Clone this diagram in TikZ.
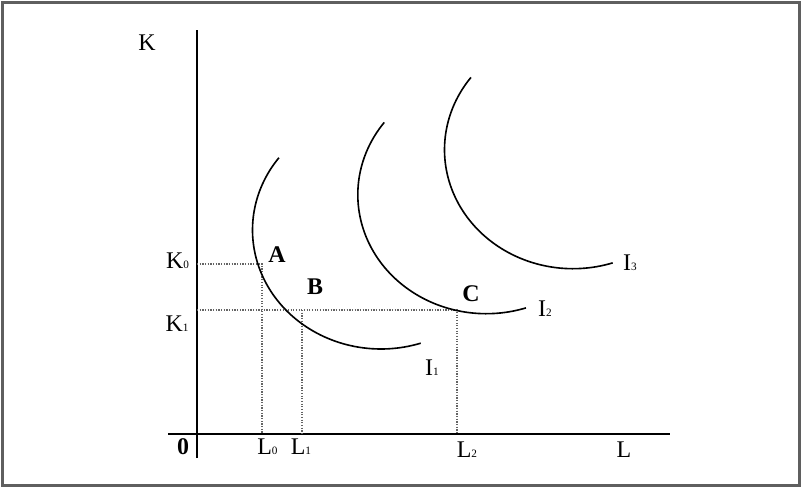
\documentclass[tikz,border=0pt]{standalone}
\usepackage{fontspec}
\setmainfont{Liberation Serif}
\usepackage{tikz}
\usetikzlibrary{positioning}
\definecolor{fLine}{RGB}{95,95,95}
\definecolor{gDot}{RGB}{100,100,100}
\tikzset{
  axis/.style={draw=black, line width=1.4pt},
  icurve/.style={draw=black, line width=1.15pt},
  guide/.style={draw=gDot, densely dotted, line width=0.9pt},
  lbl/.style={font=\fontsize{17}{19}\selectfont, inner sep=0pt},
  ptlbl/.style={font=\fontsize{17}{19}\selectfont\bfseries, inner sep=0pt},
}
\newcommand{\Sub}[1]{{\fontsize{8}{9}\selectfont #1}}
\newcommand{\Indiff}[1]{% {top point}
  \draw[icurve, shift={#1}] plot[domain=217.4:72, samples=80]
    ({103+128.5*cos(\x)}, {73+119*sin(\x)});}

\begin{document}
\begin{tikzpicture}[x=0.025cm, y=-0.025cm]
  \useasboundingbox (0,0) rectangle (802,488);
  \draw[fLine, line width=1.5pt] (2.5,2.5) rectangle (799.5,485.5);

  % axes
  \coordinate (kTop) at (197,30);
  \coordinate (kBot) at (197,458);
  \coordinate (lLeft) at (168,434);
  \coordinate (lRight) at (670,434);
  \draw[axis] (kBot) -- (kTop);
  \draw[axis] (lLeft) -- (lRight);

  % guide points
  \coordinate (k0) at (197,264);
  \coordinate (k1) at (197,310);
  \coordinate (pA) at (262,264);
  \coordinate (pB) at (302,310);
  \coordinate (pC) at (457,310);
  \coordinate (l0) at (262,434);
  \coordinate (l1) at (302,434);
  \coordinate (l2) at (457,434);
  \draw[guide] (k0) -- (pA) -- (l0);
  \draw[guide] (k1) -- (pC) -- (l2);
  \draw[guide] (pB) -- (l1);

  % indifference curves
  \Indiff{(278,157)}
  \Indiff{(383.3,121.7)}
  \Indiff{(470,76.7)}

  % labels
  \node[lbl] (kLab) at (147,43) {K};
  \node[ptlbl] (oLab) at (183,447) {0};
  \node[lbl] (k0Lab) at (177.5,261) {K\Sub{0}};
  \node[lbl] (k1Lab) at (177,324) {K\Sub{1}};
  \node[lbl] (l0Lab) at (267.5,447) {L\Sub{0}};
  \node[lbl] (l1Lab) at (301,447) {L\Sub{1}};
  \node[lbl] (l2Lab) at (467,450) {L\Sub{2}};
  \node[lbl] (lLab) at (624,450) {L};
  \node[ptlbl] (aLab) at (277,255) {A};
  \node[ptlbl] (bLab) at (315,287) {B};
  \node[ptlbl] (cLab) at (471,294) {C};
  \node[lbl] (i1Lab) at (432,368) {I\Sub{1}};
  \node[lbl] (i2Lab) at (545,309) {I\Sub{2}};
  \node[lbl] (i3Lab) at (630,263) {I\Sub{3}};
\end{tikzpicture}
\end{document}
